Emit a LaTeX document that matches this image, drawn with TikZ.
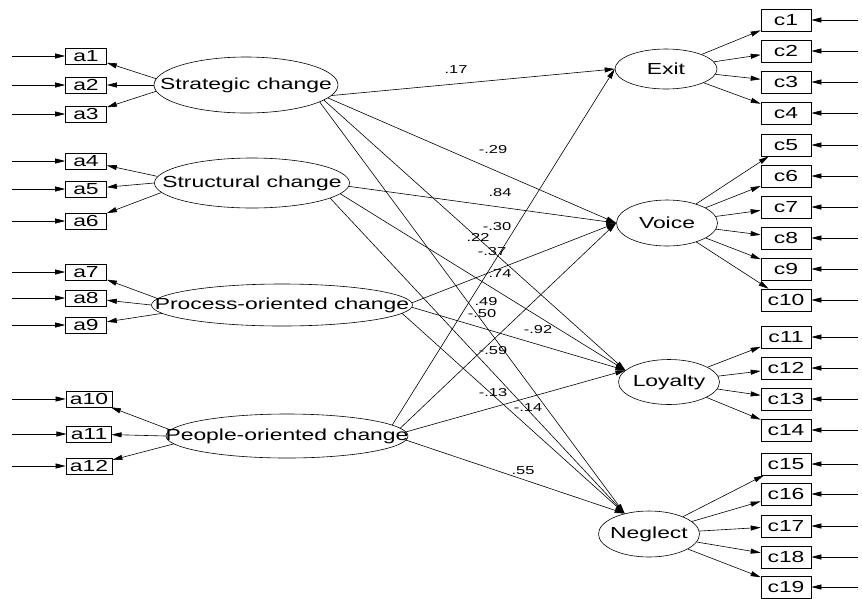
\documentclass[tikz,border=0pt]{standalone}
\usepackage{fontspec}
\setmainfont{Liberation Sans}[FakeStretch=1.43]
\usepackage{tikz}
\usetikzlibrary{arrows.meta,shapes.geometric}
\tikzset{
  smbox/.style={draw, rectangle, inner xsep=4pt, inner ysep=1pt, minimum width=41pt, minimum height=16pt, line width=0.6pt, font=\fontsize{16}{18}\selectfont},
  smcbox/.style={smbox, minimum width=50pt, minimum height=22pt},
  smlat/.style={draw, ellipse, inner sep=0pt, line width=0.6pt, font=\fontsize{16}{18}\selectfont},
  smarrow/.style={-{Triangle[length=10pt,width=5pt]}, line width=0.6pt},
  smlabel/.style={font=\fontsize{11.5}{13}\selectfont, inner sep=0pt},
}
\newcommand{\latname}[1]{\makebox[0pt]{#1}}

\begin{document}
\begin{tikzpicture}[x=1pt, y=-1pt]
  \useasboundingbox (0,0) rectangle (862,598);

  % latent variables
  \node[smlat, minimum width=184pt, minimum height=56pt] (strat) at (246,85) {\latname{Strategic change}};
  \node[smlat, minimum width=195pt, minimum height=50pt] (struc) at (252,183) {\latname{Structural change}};
  \node[smlat, minimum width=261pt, minimum height=42pt] (proc) at (282,305) {\latname{Process-oriented change}};
  \node[smlat, minimum width=242pt, minimum height=44pt] (peop) at (287,436) {\latname{People-oriented change}};
  \node[smlat, minimum width=102pt, minimum height=40pt] (exit) at (666,69) {\latname{Exit}};
  \node[smlat, minimum width=101pt, minimum height=46pt] (voice) at (667,223) {\latname{Voice}};
  \node[smlat, minimum width=101pt, minimum height=45pt] (loyal) at (669,382) {\latname{Loyalty}};
  \node[smlat, minimum width=101pt, minimum height=46pt] (negl) at (649,534) {\latname{Neglect}};

  % indicators with their error arrows
  \foreach \i/\x/\y in {1/86/56, 2/86/85, 3/86/114, 4/86/161, 5/86/189, 6/86/221,
                        7/86/272, 8/86/298, 9/86/325, 10/89/399, 11/89/434, 12/89/466} {
    \node[smbox] (a\i) at (\x,\y) {a\i};
    \coordinate (ea\i) at (12,\y);
    \draw[smarrow] (ea\i) -- (a\i);
  }
  \foreach \i/\y in {1/20, 2/51, 3/82, 4/113, 5/145, 6/176, 7/207, 8/238, 9/269, 10/300,
                     11/337, 12/368, 13/399, 14/430, 15/464, 16/494, 17/526, 18/557, 19/587} {
    \node[smcbox] (c\i) at (786,\y) {c\i};
    \coordinate (ec\i) at (858,\y);
    \draw[smarrow] (ec\i) -- (c\i);
  }

  % loadings
  \foreach \i/\t in {1/176, 2/180, 3/184} \draw[smarrow] (strat.\t) -- (a\i);
  \foreach \i/\t in {4/176, 5/180, 6/186} \draw[smarrow] (struc.\t) -- (a\i);
  \foreach \i/\t in {7/177, 8/180, 9/184} \draw[smarrow] (proc.\t) -- (a\i);
  \foreach \i/\t in {10/177, 11/180, 12/184} \draw[smarrow] (peop.\t) -- (a\i);
  \foreach \i in {1,...,4} \draw[smarrow] (exit) -- (c\i);
  \foreach \i in {5,...,10} \draw[smarrow] (voice) -- (c\i);
  \foreach \i in {11,...,14} \draw[smarrow] (loyal) -- (c\i);
  \foreach \i in {15,...,19} \draw[smarrow] (negl) -- (c\i);

  % structural paths
  \draw[smarrow] (strat.-7) -- (exit.west);
  \draw[smarrow] (strat.-9) -- (voice.west);
  \draw[smarrow] (strat.-11) -- (loyal.165);
  \draw[smarrow] (strat.-13) -- (negl.140);
  \draw[smarrow] (struc.-2) -- (voice.west);
  \draw[smarrow] (struc.-7) -- (loyal.165);
  \draw[smarrow] (struc.-11) -- (negl.140);
  \draw[smarrow] (proc.1) -- (voice.west);
  \draw[smarrow] (proc.-1) -- (loyal.165);
  \draw[smarrow] (proc.-4) -- (negl.140);
  \draw[smarrow] (peop.6) -- (exit.west);
  \draw[smarrow] (peop.4) -- (voice.west);
  \draw[smarrow] (peop.2) -- (loyal.165);
  \draw[smarrow] (peop.-2) -- (negl.140);

  % coefficients
  \foreach \v/\x/\y [count=\k] in {.17/456/70, -.29/493/150, .84/500/193, -.30/497/227,
      .22/478/237, -.37/492/252, .74/500/274, .49/486/302, -.50/482/314, -.92/538/330,
      -.59/493/351, -.13/493/393, -.14/528/408, .55/523/471}
    \node[smlabel] (w\k) at (\x,\y) {\v};
\end{tikzpicture}
\end{document}
